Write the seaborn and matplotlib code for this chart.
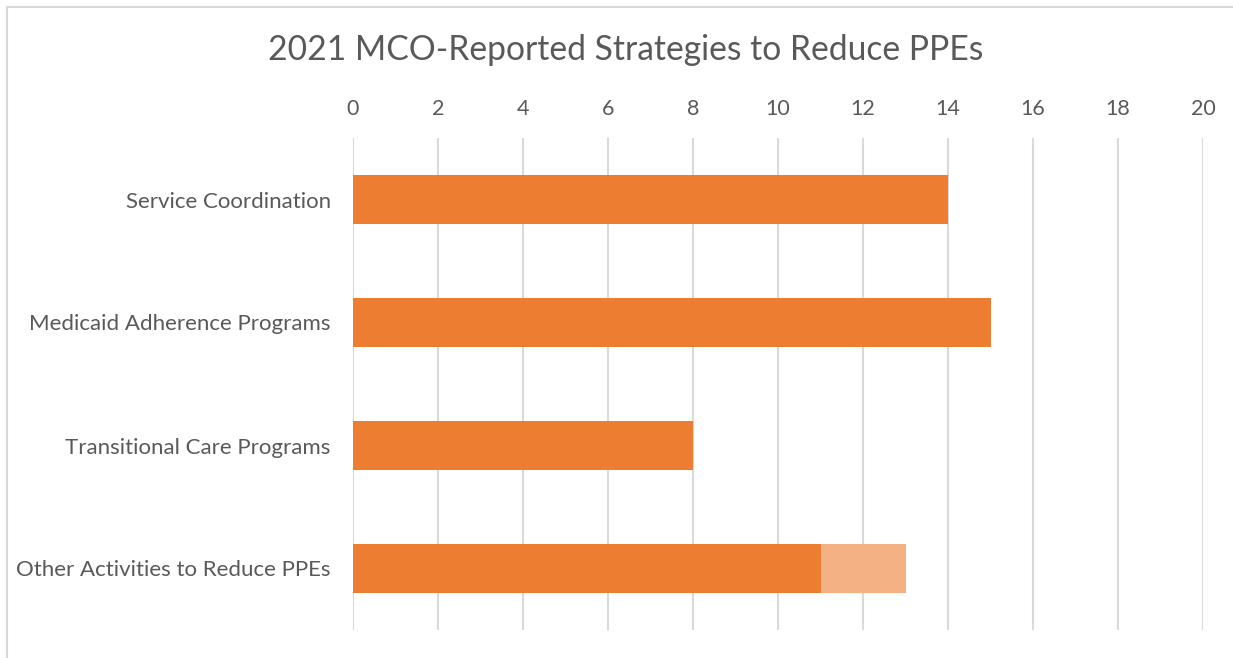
import numpy as np
import pandas as pd
import seaborn as sns
import matplotlib.pyplot as plt
from matplotlib.patches import Rectangle

# data
categories = ['Service Coordination', 'Medicaid Adherence Programs',
              'Transitional Care Programs', 'Other Activities to Reduce PPEs']
reported = [14, 15, 8, 11]
additional = [0, 0, 0, 2]
x_ticks = [0, 2, 4, 6, 8, 10, 12, 14, 16, 18, 20]

df = pd.DataFrame({'category': categories, 'reported': reported,
                   'additional': additional})
df['total'] = df['reported'] + df['additional']

sns.set_theme(style='white')
plt.rcParams['font.family'] = ['Lato', 'DejaVu Sans']
text_col = '#595959'

fig = plt.figure(figsize=(12.33, 6.58), dpi=100)
ax = fig.add_axes([353/1233, 1 - 630/658, 850/1233, 492/658])

# light segment first (full stacked length), then dark part on top
sns.barplot(data=df, x='total', y='category', orient='h', color='#F4B183',
            saturation=1, width=0.4, linewidth=0, ax=ax, zorder=2)
sns.barplot(data=df, x='reported', y='category', orient='h', color='#ED7D31',
            saturation=1, width=0.4, linewidth=0, ax=ax, zorder=3)

ax.set_xlim(0, 20)
ax.set_ylim(3.5, -0.5)
ax.set_xticks(x_ticks)
ax.xaxis.tick_top()
ax.tick_params(axis='x', length=0, labelsize=15.5, colors=text_col, pad=14)
ax.tick_params(axis='y', length=0, labelsize=16, colors=text_col, pad=16)
ax.set_xlabel('')
ax.set_ylabel('')
ax.grid(axis='x', color='#D9D9D9', linewidth=1.5, zorder=0)
ax.grid(axis='y', visible=False)
ax.set_axisbelow(True)
for s in ax.spines.values():
    s.set_visible(False)

fig.text(626/1233, 1 - 50/658, '2021 MCO-Reported Strategies to Reduce PPEs',
         ha='center', va='center', fontsize=24.2, color=text_col)

# chart area border
fig.patches.append(Rectangle((7/1233, -0.1), 2, 1.1 - 7/658,
                             transform=fig.transFigure, fill=False,
                             edgecolor='#D9D9D9', linewidth=1.5))

fig.savefig('out.png', dpi=100)
